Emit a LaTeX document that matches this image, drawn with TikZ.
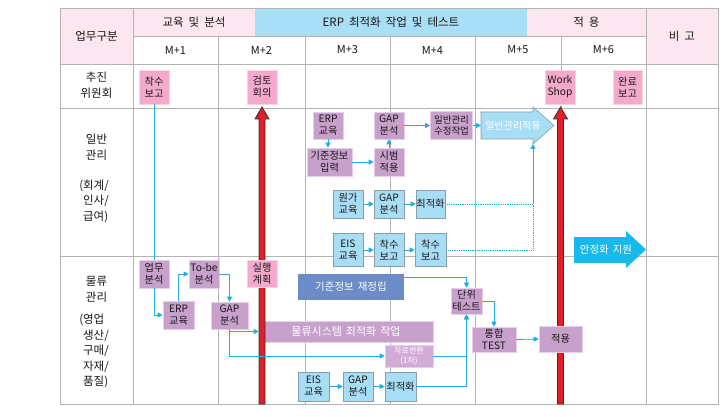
\documentclass[tikz,border=0pt]{standalone}
\usepackage{fontspec}
\setmainfont{Noto Sans CJK KR}
\usetikzlibrary{arrows.meta}
\definecolor{hdpink}{HTML}{FCE6F0}
\definecolor{hdblue}{HTML}{A8DEF6}
\definecolor{gridc}{HTML}{B4B4B4}
\definecolor{pinkc}{HTML}{F5AACB}
\definecolor{pinkb}{HTML}{FAD0E3}
\definecolor{purc}{HTML}{C7A0CC}
\definecolor{purb}{HTML}{E6D0E9}
\definecolor{bluec}{HTML}{A8DDF6}
\definecolor{blueb}{HTML}{8A9CA8}
\definecolor{dblue}{HTML}{6B8CC7}
\definecolor{jaryoc}{HTML}{D3ABD7}
\definecolor{arrc}{HTML}{1CAEE6}
\definecolor{cyanc}{HTML}{16B9E9}
\definecolor{redc}{HTML}{E11F2B}
\definecolor{txt}{HTML}{1A1718}
\newcommand\bxfont{\fontsize{10.2}{12}\selectfont}
\begin{document}
\begin{tikzpicture}[x=1pt,y=-1pt,
  sz/.style 2 args={minimum width=#1pt, minimum height=#2pt},
  bx/.style={rectangle, inner sep=0pt, align=center, font=\bxfont, text=txt, line width=0.6pt},
  pbox/.style={bx, fill=pinkc, draw=pinkb},
  ubox/.style={bx, fill=purc, draw=purb},
  bbox/.style={bx, fill=bluec, draw=blueb},
  conn/.style={draw=arrc, line width=0.8pt, -{Triangle[length=5pt,width=5pt]}},
  cline/.style={draw=arrc, line width=0.8pt},
  dline/.style={draw=arrc, line width=0.8pt, densely dotted},
  grid/.style={draw=gridc, line width=0.7pt},
  hd/.style={font=\fontsize{11.5}{14}\selectfont, text=txt},
  mh/.style={font=\fontsize{11}{13}\selectfont, text=txt},
  rl/.style={font=\fontsize{11.5}{15.5}\selectfont, text=txt, align=center},
  rll/.style={font=\fontsize{11.5}{15.5}\selectfont, text=txt, align=left},
  redarrow/.style={fill=redc, draw=black!80, line width=0.8pt, line join=miter}
]
\useasboundingbox (0,0) rectangle (726,417);
\fill[white] (0,0) rectangle (726,417);
% header fills
\fill[hdpink] (60,8) rectangle (133,64);
\fill[hdpink] (133,8) rectangle (255,36);
\fill[hdblue] (255,8) rectangle (527,36);
\fill[hdpink] (527,8) rectangle (646,36);
\fill[hdpink] (646,8) rectangle (718,64);
% grid
\draw[grid] (60,8) rectangle (718,404);
\draw[grid] (133,36) -- (646,36);
\foreach \yy in {64,108,256} \draw[grid] (60,\yy) -- (718,\yy);
\foreach \xx in {133,646} \draw[grid] (\xx,8) -- (\xx,404);
\foreach \xx in {218,305,390,475,561} \draw[grid] (\xx,36) -- (\xx,404);
% header texts
\node[hd] (hUpmu) at (96.5,36) {업무구분};
\node[hd] (hEdu) at (194,22) {교육\hspace{5pt}및\hspace{5pt}분석};
\node[hd] (hErp) at (391,22) {ERP\hspace{5pt}최적화\hspace{5pt}작업\hspace{5pt}및\hspace{5pt}테스트};
\node[hd] (hApp) at (586.5,22) {적\hspace{5pt}용};
\node[hd] (hBigo) at (682,36) {비\hspace{5pt}고};
\node[mh] (m1) at (175.5,50) {M+1};
\node[mh] (m2) at (261.5,50) {M+2};
\node[mh] (m3) at (347.5,50) {M+3};
\node[mh] (m4) at (432.5,50) {M+4};
\node[mh] (m5) at (518,50) {M+5};
\node[mh] (m6) at (603.5,50) {M+6};
% row labels
\node[rl] (rChu) at (96.5,85) {추진\\위원회};
\node[rl] (rIl) at (96.5,147) {일반\\관리};
\node[rll] (rIl2) at (96,201) {\llap{(}회계/\\인사/\\급여)};
\node[rl] (rMul) at (96.5,289.5) {물류\\관리};
\node[rll] (rMul2) at (96,351) {\llap{(}영업\\생산/\\구매/\\자재/\\품질)};
% box under red arrow
\node[ubox, sz={174}{21}, text=white, font=\fontsize{11}{13}\selectfont] (mulryu) at (346,331.5) {물류시스템\hspace{4pt}최적화\hspace{4pt}작업};
% red arrows
\draw[redarrow] (259,404) -- (259,119) -- (255,119) -- (262,107) -- (269,119) -- (265,119) -- (265,404) -- cycle;
\draw[redarrow] (557.5,404) -- (557.5,119) -- (553.5,119) -- (560.5,107) -- (567.5,119) -- (563.5,119) -- (563.5,404) -- cycle;
% big block arrows
\draw[fill=bluec, draw=blueb, line width=0.6pt] (481,112) -- (533,112) -- (533,107) -- (554,125.5) -- (533,144) -- (533,139) -- (481,139) -- cycle;
\coordinate (ilbanTail) at (481,125.5);
\coordinate (ilbanB) at (533,144);
\node[text=white, font=\fontsize{10}{12}\selectfont] (ilbanT) at (513,125.5) {일반관리적용};
\fill[cyanc] (574,237) -- (626,237) -- (626,231) -- (646,249.5) -- (626,268) -- (626,263) -- (574,263) -- cycle;
\node[text=white, font=\fontsize{10.5}{12}\selectfont] (anjeong) at (606,250) {안정화\hspace{4pt}지원};
% 추진위원회 row
\node[pbox, sz={30}{34}] (chak1) at (154,87) {착수\\보고};
\node[pbox, sz={30}{34}] (geomto) at (262,87) {검토\\회의};
\node[pbox, sz={30}{34}] (work) at (560,87) {Work\\Shop};
\node[pbox, sz={29}{34}] (wanryo) at (627.5,87) {완료\\보고};
% 일반관리 row
\node[ubox, sz={30}{27}] (erpG) at (328,125.5) {ERP\\교육};
\node[ubox, sz={45}{28}] (gijunG) at (329.5,162) {기준정보\\입력};
\node[ubox, sz={30}{27}] (gapG) at (389,125.5) {GAP\\분석};
\node[ubox, sz={30}{28}] (sibeom) at (389,162) {시범\\적용};
\node[ubox, sz={42}{28}, font=\fontsize{9.5}{11.5}\selectfont] (sujeong) at (451.5,125.5) {일반관리\\수정작업};
\node[bbox, sz={30}{28}] (wonga) at (348,204) {원가\\교육};
\node[bbox, sz={30}{28}] (gapW) at (389,204) {GAP\\분석};
\node[bbox, sz={29}{28}] (choiG) at (430.5,204) {최적화};
\node[bbox, sz={30}{33}] (eisG) at (348,250) {EIS\\교육};
\node[bbox, sz={30}{33}] (chak2a) at (389,250) {착수\\보고};
\node[bbox, sz={31}{33}] (chak2b) at (430.5,250) {착수\\보고};
% 물류관리 row
\node[ubox, sz={30}{28}] (upmu) at (154,274) {업무\\분석};
\node[ubox, sz={31}{28}] (erpL) at (178.5,315) {ERP\\교육};
\node[ubox, sz={30}{28}] (tobe) at (204,274) {To-be\\분석};
\node[ubox, sz={37}{27}] (gapL) at (229.5,315.5) {GAP\\분석};
\node[pbox, sz={30}{27}] (silhaeng) at (262,273.5) {실행\\계획};
\node[bx, fill=dblue, sz={106}{26}, text=white, font=\fontsize{10.5}{12}\selectfont] (gijunL) at (351,287) {기준정보\hspace{4pt}재정립};
\node[bx, fill=jaryoc, draw=purb, sz={48}{22}, text=white, font=\fontsize{8}{9.5}\selectfont] (jaryo) at (409,356) {자료변환\\(1차)};
\node[ubox, sz={31}{26}] (danwi) at (466.5,301) {단위\\테스트};
\node[ubox, sz={44}{25}] (tonghap) at (494,339.5) {통합\\TEST};
\node[ubox, sz={43}{26}] (jeokyong) at (560.5,339) {적용};
\node[bbox, sz={31}{29}] (eisL) at (313.5,386.5) {EIS\\교육};
\node[bbox, sz={30}{29}] (gapL2) at (358,386.5) {GAP\\분석};
\node[bbox, sz={31}{29}] (choiL) at (400.5,386.5) {최적화};
% connectors 일반관리
\draw[conn] (erpG.south) -- (erpG.south |- gijunG.north);
\draw[conn] (gijunG.east) -- (sibeom.west);
\draw[conn] (sibeom.north) -- (gapG.south);
\draw[conn] (gapG.east) -- (sujeong.west);
\draw[conn] (sujeong.east) -- (ilbanTail);
\draw[conn] (wonga.east) -- (gapW.west);
\draw[conn] (gapW.east) -- (choiG.west);
\draw[conn] (eisG.east) -- (chak2a.west);
\draw[conn] (chak2a.east) -- (chak2b.west);
\draw[dline] (choiG.east) -- (choiG.east -| ilbanB);
\draw[conn] (choiG.east -| ilbanB) -- (ilbanB);
\draw[dline] (chak2b.east) -| (choiG.east -| ilbanB);
% connectors 물류관리
\draw[cline] (chak1.south) -- (upmu.north);
\draw[conn] (upmu.south) |- (erpL.west);
\draw[conn] (erpL.north) |- (tobe.west);
\draw[conn] (tobe.east) -| (gapL.north);
\draw[conn] (gapL.south) |- (mulryu.west);
\draw[conn] (gapL.south) |- (jaryo.west);
\draw[conn] ([yshift=10pt]gijunL.east) -| (danwi.north);
\draw[conn] (danwi.east) -| (tonghap.north);
\draw[conn] (tonghap.east) -- (jeokyong.west);
\draw[conn] (jaryo.east) -| (danwi.south);
\draw[conn] (choiL.east) -| (danwi.south);
\draw[conn] (eisL.east) -- (gapL2.west);
\draw[conn] (gapL2.east) -- (choiL.west);
\end{tikzpicture}
\end{document}
